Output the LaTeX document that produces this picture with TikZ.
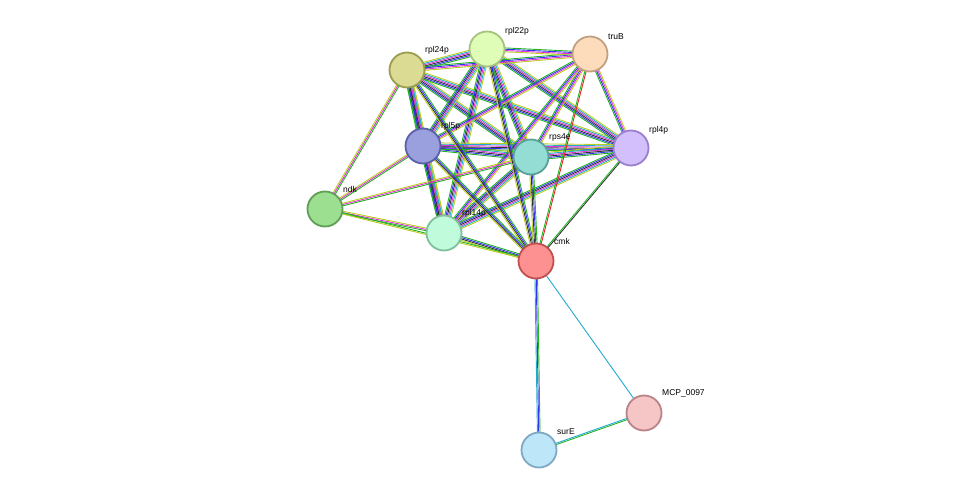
\documentclass[tikz,border=0pt]{standalone}
\usepackage{fontspec}
\setmainfont{Liberation Sans}
\usetikzlibrary{calc}
\definecolor{eg}{HTML}{22B322}\definecolor{eb}{HTML}{3333EE}\definecolor{ek}{HTML}{333333}
\definecolor{em}{HTML}{DD33DD}\definecolor{ec}{HTML}{22AACC}\definecolor{ey}{HTML}{BBCC22}
\definecolor{er}{HTML}{EE2222}\definecolor{ep}{HTML}{7777DD}
\newcommand\edg[4]{\foreach \cc [count=\ii] in {#4}{%
 \pgfmathsetmacro\oo{(\ii-(#3+1)/2)*1.3}%
 \draw[\cc,line width=0.9pt] ($(#1)!\oo pt!90:(#2)$) -- ($(#2)!\oo pt!-90:(#1)$);}}
\tikzset{prot/.style={circle,minimum size=35pt,inner sep=0,line width=1.8pt},
 lab/.style={font=\fontsize{8.5pt}{9pt}\selectfont,anchor=south west,inner sep=0}}
\begin{document}
\begin{tikzpicture}[x=1pt,y=1pt]
\useasboundingbox (0,0) rectangle (975,496);
\coordinate (rpl24p) at (407,426);
\coordinate (rpl22p) at (487,447);
\coordinate (truB) at (590,442);
\coordinate (rpl4p) at (631,348);
\coordinate (rpl5p) at (423,350);
\coordinate (rps4e) at (531,339);
\coordinate (ndk) at (325,287);
\coordinate (rpl14p) at (444,263);
\coordinate (cmk) at (536,235);
\coordinate (MCP) at (644,83);
\coordinate (surE) at (539,46);
% ribosomal core
\foreach \a/\b in {rpl24p/rpl22p,rpl24p/rpl5p,rpl24p/rps4e,rpl24p/rpl4p,rpl24p/rpl14p,rpl22p/rpl5p,rpl22p/rps4e,rpl22p/rpl4p,rpl22p/rpl14p,rpl5p/rps4e,rpl5p/rpl4p,rpl5p/rpl14p,rps4e/rpl4p,rps4e/rpl14p,rpl4p/rpl14p}
 {\edg{\a}{\b}{6}{eg,eb,ek,em,ec,ey}}
\foreach \a in {rpl24p,rpl22p,rpl5p,rps4e,rpl4p,rpl14p}{\edg{truB}{\a}{4}{eg,eb,em,ey}}
\foreach \a in {rpl24p,rpl5p,rps4e,rpl14p}{\edg{ndk}{\a}{3}{eg,em,ey}}
\foreach \a in {rpl24p,rpl22p,rpl5p,rps4e,rpl14p}{\edg{cmk}{\a}{4}{eg,eb,ek,ey}}
\edg{cmk}{truB}{2}{er,eg}
\edg{cmk}{rpl4p}{2}{ek,eg}
\edg{cmk}{ndk}{2}{eg,ey}
\edg{cmk}{surE}{3}{ec,eb,eg}
\edg{cmk}{MCP}{1}{ec}
\edg{surE}{MCP}{2}{eg,ec}
% nodes
\foreach \n/\f/\s in {rpl24p/DCDB94/9C9C4F,rpl22p/E0FDB8/A3C37E,truB/FDDCBC/C0A080,rpl4p/D2BFFB/9B7FCC,rpl5p/9AA0DD/5A5FA8,rps4e/93DDD4/5AA097,ndk/9DDF90/5E9F55,rpl14p/C0FBDC/7FBF9C,cmk/FD9090/C05050,MCP/F6C5C6/B88487,surE/BDE6F9/7FA8C4}
 {\definecolor{ff}{HTML}{\f}\definecolor{ss}{HTML}{\s}
  \node[prot,fill=ff,draw=ss] (n\n) at (\n) {};}
\node[lab] (l1) at ($(rpl24p)+(18,16)$) {rpl24p};
\node[lab] (l2) at ($(rpl22p)+(18,14)$) {rpl22p};
\node[lab] (l3) at ($(truB)+(18,14)$) {truB};
\node[lab] (l4) at ($(rpl4p)+(18,14)$) {rpl4p};
\node[lab] (l5) at ($(rpl5p)+(18,16)$) {rpl5p};
\node[lab] (l6) at ($(rps4e)+(18,16)$) {rps4e};
\node[lab] (l7) at ($(ndk)+(18,16)$) {ndk};
\node[lab] (l8) at ($(rpl14p)+(18,16)$) {rpl14p};
\node[lab] (l9) at ($(cmk)+(18,16)$) {cmk};
\node[lab] (l10) at ($(MCP)+(18,16)$) {MCP\_0097};
\node[lab] (l11) at ($(surE)+(18,15)$) {surE};
\end{tikzpicture}
\end{document}
